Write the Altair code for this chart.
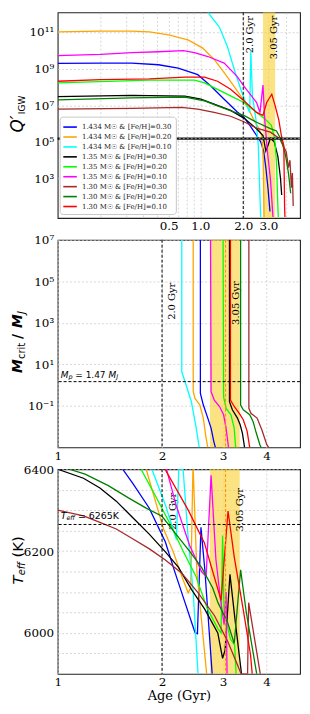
import altair as alt
import pandas as pd

SERIES = [
    "1.434 M☉ & [Fe/H]=0.30",
    "1.434 M☉ & [Fe/H]=0.20",
    "1.434 M☉ & [Fe/H]=0.10",
    "1.35 M☉ & [Fe/H]=0.30",
    "1.35 M☉ & [Fe/H]=0.20",
    "1.35 M☉ & [Fe/H]=0.10",
    "1.30 M☉ & [Fe/H]=0.30",
    "1.30 M☉ & [Fe/H]=0.20",
    "1.30 M☉ & [Fe/H]=0.10",
]
COLORS = ["blue", "orange", "cyan", "black", "lime", "magenta", "brown", "green", "red"]

# ---- top panel: (age [Gyr], log10 Q'_IGW)
Q_1434_030 = [(0.10, 9.28), (0.20, 9.30), (0.33, 9.30), (0.51, 9.21), (0.70, 9.03), (0.96, 8.67), (1.19, 8.04),
              (1.47, 7.33), (1.81, 6.65), (2.02, 6.35), (2.25, 5.85), (2.48, 5.35), (2.65, 5.0), (2.78, 4.5),
              (2.88, 3.6), (2.98, 2.5), (3.08, 1.2)]
Q_1434_020 = [(0.10, 11.00), (0.20, 11.04), (0.33, 11.05), (0.44, 11.00), (0.60, 10.84), (0.82, 10.57), (1.04, 10.12),
              (1.25, 9.50), (1.47, 8.78), (1.72, 8.04), (1.96, 7.41), (2.12, 6.97), (2.35, 6.27), (2.55, 5.78),
              (2.70, 5.35), (2.76, 4.0), (2.80, 0.9)]
Q_1434_010 = [(1.13, 12.07), (1.36, 11.27), (1.55, 10.19), (1.76, 8.76), (1.96, 7.68), (2.12, 6.97), (2.22, 6.60),
              (2.26, 9.95), (2.32, 7.50), (2.45, 6.27), (2.55, 4.82), (2.62, 2.0), (2.65, 0.9)]
Q_135_030 = [(0.10, 7.47), (0.33, 7.54), (0.78, 7.50), (1.01, 7.33), (1.25, 7.06), (1.63, 6.72), (2.02, 6.30),
             (2.48, 5.72), (2.75, 5.35), (2.88, 4.50), (2.95, 4.70), (3.10, 5.20), (3.30, 5.00), (3.50, 4.20),
             (3.65, 3.00), (3.72, 2.10)]
Q_135_020 = [(0.10, 8.22), (0.44, 8.37), (0.91, 8.37), (1.07, 8.22), (1.32, 7.87), (1.63, 7.51), (2.02, 7.15),
             (2.48, 6.61), (2.83, 6.27), (3.15, 5.90), (3.32, 5.20), (3.42, 3.90), (3.50, 1.40), (3.52, 0.9)]
Q_135_010 = [(0.10, 9.71), (0.20, 9.78), (0.33, 9.87), (0.51, 9.92), (0.76, 9.98), (0.91, 9.87), (1.13, 9.66),
             (1.47, 9.30), (1.81, 8.58), (2.02, 8.04), (2.48, 7.15), (2.62, 6.60), (2.75, 8.10), (2.83, 6.20),
             (2.95, 4.50), (3.10, 3.00), (3.20, 1.40), (3.23, 0.9)]
Q_130_030 = [(0.10, 6.79), (0.33, 6.83), (0.74, 6.88), (0.96, 6.79), (1.25, 6.61), (1.63, 6.40), (2.02, 6.10),
             (2.48, 5.75), (3.10, 5.53), (3.60, 5.18), (4.00, 4.46), (4.15, 3.60), (4.25, 4.00), (4.35, 2.50),
             (4.42, 3.30), (4.48, 1.50)]
Q_130_020 = [(0.10, 7.29), (0.33, 7.40), (0.78, 7.45), (1.07, 7.24), (1.32, 6.97), (1.63, 6.70), (2.02, 6.45),
             (2.48, 6.07), (3.10, 5.72), (3.42, 5.60), (3.70, 5.10), (3.95, 4.30), (4.15, 3.30), (4.30, 2.20)]
Q_130_010 = [(0.10, 8.31), (0.20, 8.40), (0.44, 8.44), (0.78, 8.53), (1.07, 8.53), (1.32, 8.31), (1.63, 7.87),
             (2.02, 7.24), (2.48, 6.61), (2.75, 6.45), (2.92, 7.15), (3.17, 7.60), (3.35, 6.97), (3.55, 6.20),
             (3.70, 5.35), (3.85, 4.80), (3.90, 1.40), (3.92, 0.9)]

# ---- middle panel: (age [Gyr], log10 M_crit / M_J)
M_1434_030 = [(2.58, 7.0), (2.58, -0.40), (2.63, -0.95), (2.71, -1.59), (2.77, -2.07), (2.82, -2.71), (2.85, -3.0)]
M_1434_020 = [(2.46, 7.0), (2.46, -0.30), (2.49, -0.64), (2.57, -0.95), (2.63, -1.59), (2.68, -2.55), (2.71, -3.0)]
M_1434_010 = [(2.28, 7.0), (2.28, 0.64), (2.33, 0.16), (2.43, -0.80), (2.51, -2.07), (2.56, -3.0)]
M_135_030 = [(3.13, 7.0), (3.13, -0.80), (3.19, -1.19), (3.30, -1.59), (3.36, -1.91), (3.41, -2.31), (3.46, -3.0)]
M_135_020 = [(3.00, 7.0), (3.01, -0.56), (3.06, -1.12), (3.16, -1.43), (3.23, -2.07), (3.26, -3.0)]
M_135_010 = [(2.76, 7.0), (2.77, -0.32), (2.83, -0.72), (2.93, -1.03), (3.01, -1.43), (3.06, -2.07), (3.11, -3.0)]
M_130_030 = [(3.56, 7.0), (3.56, -1.12), (3.61, -1.36), (3.76, -1.59), (3.88, -2.15), (4.01, -2.87), (4.06, -3.0)]
M_130_020 = [(3.37, 7.0), (3.37, -0.96), (3.43, -1.19), (3.58, -1.43), (3.66, -1.75), (3.74, -2.31), (3.83, -2.87),
             (3.86, -3.0)]
M_130_010 = [(3.15, 7.0), (3.15, -0.72), (3.23, -1.03), (3.34, -1.36), (3.43, -1.67), (3.52, -2.23), (3.58, -3.0)]

# ---- bottom panel: (age [Gyr], Teff [K])
T_1434_030 = [(1.54, 6400), (1.645, 6366), (1.834, 6306), (2.045, 6222), (2.183, 6146), (2.33, 6074), (2.433, 6026),
              (2.49, 6001), (2.53, 5998), (2.59, 6258), (2.66, 6150), (2.79, 5900)]
T_1434_020 = [(1.80, 6400), (2.02, 6254), (2.15, 6200), (2.30, 6130), (2.38, 6098), (2.42, 6110), (2.455, 6400),
              (2.46, 6400), (2.52, 6150), (2.62, 6000), (2.69, 5900)]
T_1434_010 = [(1.87, 6400), (2.05, 6310), (2.20, 6228), (2.235, 6400), (2.30, 6400), (2.38, 6230), (2.46, 6100),
              (2.54, 5900)]
T_135_030 = [(1.00, 6400), (1.187, 6378), (1.324, 6354), (1.476, 6322), (1.645, 6282), (1.834, 6242), (2.045, 6198),
             (2.231, 6160), (2.433, 6106), (2.655, 6058), (2.896, 6000), (2.99, 5938), (3.04, 5958), (3.14, 6143),
             (3.25, 6030), (3.39, 5900)]
T_135_020 = [(1.74, 6400), (1.90, 6340), (2.10, 6270), (2.30, 6200), (2.50, 6140), (2.70, 6060), (2.90, 6010),
             (2.96, 6000), (2.99, 6238), (3.02, 6050), (3.15, 5985), (3.24, 5970), (3.27, 5900)]
T_135_010 = [(2.06, 6400), (2.20, 6310), (2.40, 6215), (2.60, 6150), (2.68, 6138), (2.77, 6385), (2.86, 6180),
             (2.95, 6080), (3.02, 6020), (3.06, 6100), (3.08, 5900)]
T_130_030 = [(1.00, 6300), (1.187, 6286), (1.324, 6270), (1.476, 6254), (1.645, 6230), (1.834, 6206), (2.045, 6178),
             (2.28, 6146), (2.542, 6098), (2.834, 6042), (3.09, 5980), (3.30, 5922), (3.38, 5900), (3.53, 5900),
             (3.555, 6074), (3.84, 5900)]
T_130_020 = [(1.08, 6400), (1.20, 6388), (1.40, 6360), (1.60, 6330), (1.80, 6305), (2.00, 6285), (2.20, 6240),
             (2.40, 6200), (2.60, 6160), (2.80, 6110), (2.90, 6074), (3.09, 6026), (3.23, 5974), (3.37, 6154),
             (3.50, 6050), (3.75, 5900)]
T_130_010 = [(2.04, 6400), (2.38, 6300), (2.65, 6220), (2.80, 6150), (2.96, 6080), (3.10, 6298), (3.23, 6186),
             (3.44, 6050), (3.60, 5946), (3.64, 5900)]

Q_ALL = [Q_1434_030, Q_1434_020, Q_1434_010, Q_135_030, Q_135_020, Q_135_010, Q_130_030, Q_130_020, Q_130_010]
M_ALL = [M_1434_030, M_1434_020, M_1434_010, M_135_030, M_135_020, M_135_010, M_130_030, M_130_020, M_130_010]
T_ALL = [T_1434_030, T_1434_020, T_1434_010, T_135_030, T_135_020, T_135_010, T_130_030, T_130_020, T_130_010]

AGE_MARK = 2.0
AGE_BEST = 3.05
AGE_BAND = (2.75, 3.35)
Q_LIMIT_LOG = 5.18
MP_MJ = 1.47
TEFF_OBS = 6265

W = 244
H_TOP, H_MID, H_BOT = 207, 209, 206
GAP = 22


def frame(lists, logv):
    rows = []
    for name, pts in zip(SERIES, lists):
        for i, (a, v) in enumerate(pts):
            rows.append({"series": name, "age": a, "val": (10 ** v) if logv else v, "ord": i})
    return pd.DataFrame(rows)


BASE = dict(domain=False, ticks=False, gridColor="#cccccc", gridDash=[2, 2], gridWidth=0.8,
            labelFont="DejaVu Serif", labelFontSize=12, labelColor="black", labelOverlap=False,
            labelFlush=False)

SUP = {-1: "10⁻¹", 1: "10¹", 3: "10³", 5: "10⁵", 7: "10⁷", 9: "10⁹", 11: "10¹¹"}


def sup_expr(exps):
    e = "''"
    for k in sorted(exps):
        e = f"abs(log(datum.value)/LN10 - ({k})) < 0.1 ? '{SUP[k]}' : ({e})"
    return e


COLOR = alt.Scale(domain=SERIES, range=COLORS)


def panel(df, xs, ys, xax, yax, h, legend, extra_under, extra_over):
    def X(f="age"):
        return alt.X(f"{f}:Q", scale=xs, axis=xax)

    def Y(f="val"):
        return alt.Y(f"{f}:Q", scale=ys, axis=yax)

    band = alt.Chart(pd.DataFrame({"age": [AGE_BAND[0]], "age2": [AGE_BAND[1]]})).mark_rect(
        color="#f9d030", opacity=0.6).encode(x=X(), x2="age2:Q", y=alt.value(0), y2=alt.value(h))
    vline = alt.Chart(pd.DataFrame({"age": [AGE_MARK]})).mark_rule(
        color="black", strokeDash=[3, 2], strokeWidth=1).encode(x=X())
    lines = alt.Chart(df).mark_line(clip=True, strokeWidth=1.3).encode(
        x=X(), y=Y(),
        color=alt.Color("series:N", scale=COLOR, legend=legend, sort=SERIES),
        order="ord:Q")
    layers = [band] + [f(X, Y) for f in extra_under] + [lines, vline] + [f(X, Y) for f in extra_over]
    return alt.layer(*layers).properties(width=W, height=h)


def txt(age, val, text, **mk):
    def f(X, Y):
        return alt.Chart(pd.DataFrame({"age": [age], "val": [val], "t": [text]})).mark_text(**mk).encode(
            x=X(), y=Y(), text="t:N")
    return f


def ptxt(px, py, text, **mk):
    def f(X, Y):
        return alt.Chart(pd.DataFrame({"t": [text]})).mark_text(**mk).encode(
            x=alt.value(px), y=alt.value(py), text="t:N")
    return f


def hrule(val, **mk):
    def f(X, Y):
        return alt.Chart(pd.DataFrame({"val": [val]})).mark_rule(**mk).encode(y=Y())
    return f


def orange_line(X, Y):
    return alt.Chart(pd.DataFrame({"age": [AGE_BEST]})).mark_rule(
        color="darkorange", strokeDash=[3, 2], strokeWidth=1).encode(x=X())


# rotated text: dy moves the label to the right on screen
GYR = dict(font="DejaVu Serif", fontSize=10, angle=270, align="center", baseline="middle", color="black")
TIT = dict(font="DejaVu Sans", angle=270, align="left", baseline="middle", color="black")
ANN = dict(font="DejaVu Sans", align="left", baseline="middle", color="black")

# ---------------- top panel
x_top = alt.Scale(type="log", domain=[0.1, 5.0], nice=False)
y_top = alt.Scale(type="log", domain=[10 ** 0.85, 10 ** 12.07], nice=False)
xax_top = alt.Axis(values=[0.2, 0.3, 0.4, 0.5, 0.6, 0.7, 0.8, 0.9, 1, 2, 3, 4], title=None, labelPadding=3,
                   labelExpr="datum.value == 0.6 ? '0.5' : datum.value == 1 ? '1.0' : datum.value == 2 ? '2.0' : "
                             "datum.value == 3 ? '3.0' : ''", **BASE)
yax_top = alt.Axis(values=[1e3, 1e5, 1e7, 1e9, 1e11], title=None, labelPadding=4,
                   labelExpr=sup_expr([3, 5, 7, 9, 11]), **BASE)
legend = alt.Legend(title=None, orient="none", legendX=2, legendY=105, direction="vertical",
                    symbolType="M-1.3,0H1.3", symbolSize=110, symbolStrokeWidth=1.6,
                    labelFont="DejaVu Serif", labelFontSize=7, labelColor="#222", labelOffset=5.5,
                    labelLimit=200, padding=4, rowPadding=0, fillColor="white", strokeColor="#c8c8c8",
                    cornerRadius=3)
top = panel(frame(Q_ALL, True), x_top, y_top, xax_top, yax_top, H_TOP, legend,
            [txt(AGE_MARK, 10 ** 10.85, "2.0 Gyr", dy=7, **GYR),
             txt(AGE_BEST, 10 ** 10.7, "3.05 Gyr", dy=5, **GYR)],
            [hrule(10 ** Q_LIMIT_LOG, color="#111", strokeWidth=2.2),
             hrule(10 ** Q_LIMIT_LOG, color="#bbbbbb", strokeWidth=0.7, strokeDash=[2, 2]),
             ptxt(-40, 121, "Q′", fontSize=17, fontStyle="italic", **TIT),
             ptxt(-36, 102.5, "IGW", fontSize=9, **TIT)])

# ---------------- middle panel
x_low = alt.Scale(type="log", domain=[1.0, 5.0], nice=False)
y_mid = alt.Scale(type="log", domain=[1e-3, 1e7], nice=False)
xax_low = alt.Axis(values=[1, 2, 3, 4], format="d", title=None, labelPadding=3, **BASE)
yax_mid = alt.Axis(values=[1e-1, 1e1, 1e3, 1e5, 1e7], title=None, labelPadding=4,
                   labelExpr=sup_expr([-1, 1, 3, 5, 7]), **BASE)
mid = panel(frame(M_ALL, True), x_low, y_mid, xax_low, yax_mid, H_MID, None,
            [txt(AGE_MARK, 10 ** 4.04, "2.0 Gyr", dy=10, **GYR),
             txt(AGE_BEST, 10 ** 3.95, "3.05 Gyr", dy=11, **GYR)],
            [orange_line,
             hrule(MP_MJ, color="black", strokeWidth=1, strokeDash=[3, 2]),
             txt(1.0, MP_MJ, "M", dx=3, dy=-7, fontSize=9, fontStyle="italic", **ANN),
             txt(1.0, MP_MJ, "p", dx=10.8, dy=-4.5, fontSize=6.5, fontStyle="italic", **ANN),
             txt(1.0, MP_MJ, "= 1.47", dx=17.8, dy=-7, fontSize=9, **ANN),
             txt(1.0, MP_MJ, "M", dx=51.1, dy=-7, fontSize=9, fontStyle="italic", **ANN),
             txt(1.0, MP_MJ, "J", dx=58.9, dy=-4.5, fontSize=6.5, fontStyle="italic", **ANN),
             ptxt(-40, 134, "M", fontSize=14, fontStyle="italic", fontWeight="bold", **TIT),
             ptxt(-36, 120, "crit", fontSize=10, **TIT),
             ptxt(-40, 100, "/", fontSize=14, fontWeight="bold", **TIT),
             ptxt(-40, 88.8, "M", fontSize=14, fontStyle="italic", fontWeight="bold", **TIT),
             ptxt(-36, 74.8, "J", fontSize=10, fontStyle="italic", **TIT)])

# ---------------- bottom panel
y_bot = alt.Scale(domain=[5900, 6400], nice=False)
xax_bot = alt.Axis(values=[1, 2, 3, 4], format="d", title="Age (Gyr)", titleFont="DejaVu Serif",
                   titleFontSize=13, titleFontWeight="normal", titleColor="black", titlePadding=2,
                   labelPadding=3, **BASE)
yax_bot = alt.Axis(values=[5950, 6000, 6050, 6100, 6150, 6200, 6250, 6300, 6350, 6400], format="d", title=None,
                   labelPadding=4, labelExpr="datum.value % 200 == 0 ? datum.label : ''", **BASE)
bot = panel(frame(T_ALL, False), x_low, y_bot, xax_bot, yax_bot, H_BOT, None,
            [txt(AGE_MARK, 6297, "2.0 Gyr", dy=11, **GYR),
             txt(AGE_BEST, 6301, "3.05 Gyr", dy=15, **GYR)],
            [orange_line,
             hrule(TEFF_OBS, color="black", strokeWidth=1, strokeDash=[3, 2]),
             txt(1.0, TEFF_OBS, "T", dx=3, dy=-9, fontSize=9.5, fontStyle="italic", **ANN),
             txt(1.0, TEFF_OBS, "eff", dx=8.8, dy=-6.5, fontSize=6.5, fontStyle="italic", **ANN),
             txt(1.0, TEFF_OBS, "= 6265K", dx=20.4, dy=-9, fontSize=9.5, **ANN),
             ptxt(-40, 116, "T", fontSize=15, fontStyle="italic", **TIT),
             ptxt(-36, 106.8, "eff", fontSize=10, fontStyle="italic", **TIT),
             ptxt(-40, 88.8, "(K)", fontSize=15, **TIT)])

chart = alt.vconcat(top, mid, bot, spacing=GAP, bounds="flush").resolve_scale(
    x="independent", y="independent", color="independent").resolve_legend(color="independent").properties(
    padding={"left": 0, "top": 0, "right": 0, "bottom": 0}, background="white"
).configure_view(stroke="#222", strokeWidth=1.1)

chart.save("out.html", embed_options={"renderer": "svg", "actions": False})
